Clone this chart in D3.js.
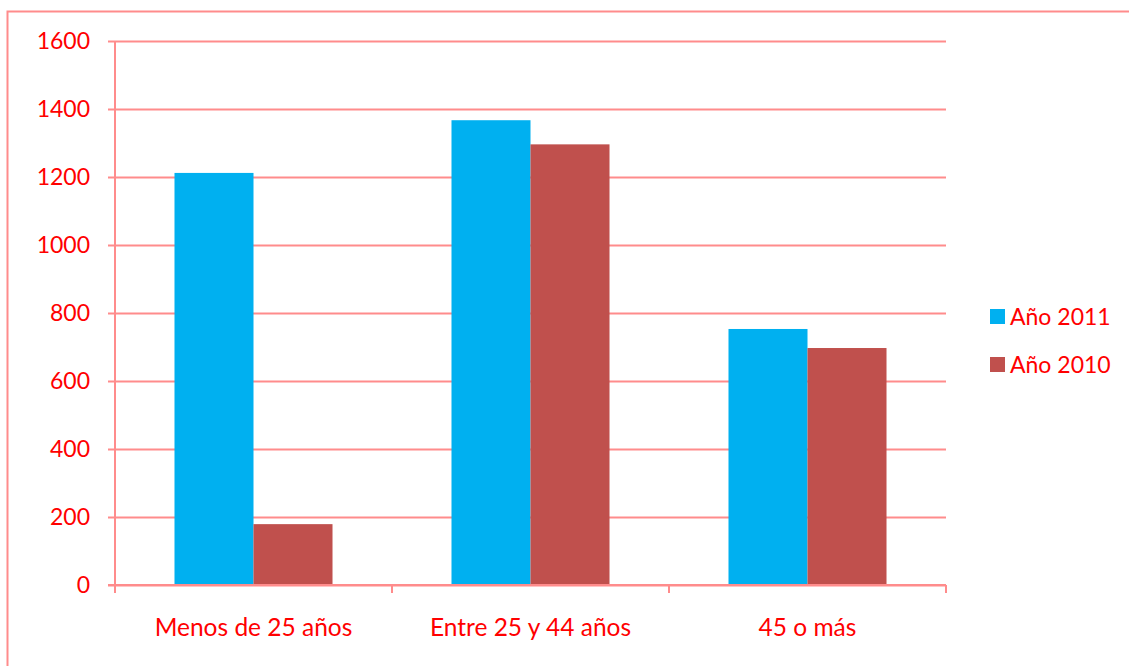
<!DOCTYPE html>
<html>
<head>
<meta charset="utf-8">
<script src="https://cdn.jsdelivr.net/npm/d3@7"></script>
<style>
  body { margin: 0; background: #fff; }
  text { font-family: Lato, "Open Sans", sans-serif; fill: #ff0000; }
</style>
</head>
<body>
<div id="chart"></div>
<script>
// chart data
let categories = ["Menos de 25 años", "Entre 25 y 44 años", "45 o más"];
let seriesNames = ["Año 2011", "Año 2010"];
let values2011 = [1212, 1367, 753];
let values2010 = [179, 1296, 697];
let yTicks = [0, 200, 400, 600, 800, 1000, 1200, 1400, 1600];

let colors = ["#00b0f0", "#c0504d"];
let lineColor = "#ff8c8c";
let fontSize = "23px";

let width = 1129, height = 666;
let margin = { left: 115, right: 183, top: 41, bottom: 81 };

let svg = d3.select("#chart")
  .append("svg")
  .attr("width", width)
  .attr("height", height);

// outer frame (cut off right and bottom)
svg.append("path")
  .attr("d", "M7.5,700 L7.5,11.5 L1140,11.5")
  .style("fill", "none")
  .style("stroke", lineColor)
  .style("stroke-width", 2);

let xScale = d3.scaleBand()
  .domain(categories)
  .range([margin.left, width - margin.right])
  .paddingInner(0)
  .paddingOuter(0);

let xInner = d3.scaleBand()
  .domain(seriesNames)
  .range([0, xScale.bandwidth()])
  .paddingInner(0)
  .paddingOuter(0.753);

let yScale = d3.scaleLinear()
  .domain([0, 1600])
  .range([height - margin.bottom, margin.top]);

// gridlines / y axis
let yAxis = svg.append("g")
  .attr("transform", `translate(${margin.left},0)`)
  .call(d3.axisLeft(yScale)
    .tickValues(yTicks)
    .tickFormat(d3.format("d"))
    .tickSize(-(width - margin.right - margin.left))
    .tickSizeOuter(0)
    .tickPadding(25));
yAxis.select(".domain").remove();
yAxis.selectAll(".tick line")
  .attr("x1", -7)
  .style("stroke", lineColor)
  .style("stroke-width", 2);
yAxis.selectAll(".tick text")
  .style("font-size", fontSize);

// vertical axis line
svg.append("line")
  .attr("x1", margin.left).attr("x2", margin.left)
  .attr("y1", margin.top).attr("y2", height - margin.bottom)
  .style("stroke", lineColor)
  .style("stroke-width", 2);

// bars
let groups = svg.append("g")
  .selectAll("g")
  .data(categories)
  .join("g")
  .attr("transform", d => `translate(${xScale(d)},0)`);

groups.selectAll("rect")
  .data((d, i) => [
    { s: seriesNames[0], v: values2011[i], c: colors[0] },
    { s: seriesNames[1], v: values2010[i], c: colors[1] }
  ])
  .join("rect")
  .attr("x", d => xInner(d.s))
  .attr("y", d => yScale(d.v))
  .attr("width", xInner.bandwidth())
  .attr("height", d => yScale(0) - yScale(d.v))
  .style("fill", d => d.c);

// x axis
let xAxis = svg.append("g")
  .attr("transform", `translate(0,${height - margin.bottom})`)
  .call(d3.axisBottom(xScale).tickSize(0).tickPadding(34));
xAxis.select(".domain").remove();
xAxis.selectAll(".tick text").style("font-size", "24.5px");

svg.append("line")
  .attr("x1", margin.left - 7).attr("x2", width - margin.right)
  .attr("y1", yScale(0)).attr("y2", yScale(0))
  .style("stroke", lineColor)
  .style("stroke-width", 2);

// category separator ticks
let sepX = categories.map(c => xScale(c)).concat([xScale.range()[1]]);
svg.append("g")
  .selectAll("line")
  .data(sepX)
  .join("line")
  .attr("x1", d => d).attr("x2", d => d)
  .attr("y1", yScale(0)).attr("y2", yScale(0) + 8)
  .style("stroke", lineColor)
  .style("stroke-width", 2);

// legend
let legend = svg.append("g")
  .selectAll("g")
  .data(seriesNames)
  .join("g")
  .attr("transform", (d, i) => `translate(990,${309 + i * 48})`);

legend.append("rect")
  .attr("width", 15)
  .attr("height", 15)
  .style("fill", (d, i) => colors[i]);

legend.append("text")
  .attr("x", 20)
  .attr("y", 16)
  .style("font-size", fontSize)
  .text(d => d);
</script>
</body>
</html>
